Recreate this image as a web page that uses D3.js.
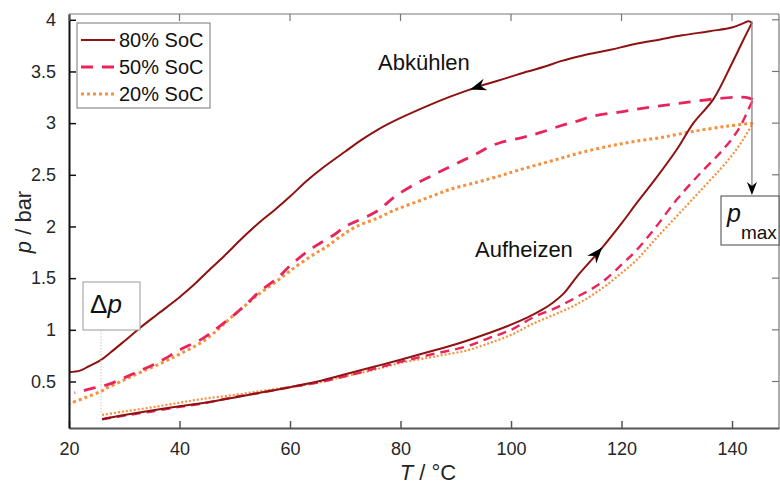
<!DOCTYPE html>
<html>
<head>
<meta charset="utf-8">
<script src="https://cdn.jsdelivr.net/npm/d3@7"></script>
<style>
  html, body { margin: 0; padding: 0; background: #fff; }
  svg { display: block; font-family: "Liberation Sans", Arial, sans-serif; }
</style>
</head>
<body>
<svg id="chart" width="780" height="484"></svg>
<script>
// Pressure hysteresis loops: heating (Aufheizen) and cooling (Abkühlen) for three states of charge.
// Each branch is a list of [T in °C, p in bar].
const heat80 = [[26,0.135],[30,0.175],[35,0.22],[40,0.26],[44,0.29],[50,0.345],[55,0.395],[60,0.445],[65,0.5],[70,0.57],[75,0.64],[80,0.71],[85,0.785],[90,0.86],[95,0.95],[100,1.05],[103,1.12],[105.5,1.19],[107.5,1.26],[109.5,1.35],[112,1.52],[116.2,1.776],[120,2.03],[122.8,2.23],[126,2.45],[130,2.745],[133,3.0],[136.6,3.23],[140,3.58],[142,3.80],[143.6,3.97]];
const cool80 = [[143.6,3.97],[143,3.985],[142,3.965],[140,3.925],[136,3.89],[131,3.85],[127,3.81],[122,3.76],[118,3.71],[113,3.655],[109,3.60],[106,3.545],[103,3.50],[100,3.45],[97,3.40],[94.5,3.36],[92,3.315],[89,3.256],[85,3.17],[80,3.05],[76,2.94],[73,2.84],[70,2.725],[66,2.57],[63,2.44],[60,2.29],[57,2.15],[54.7,2.05],[51.7,1.905],[48,1.71],[45,1.56],[42.7,1.44],[40,1.315],[36,1.15],[33,1.025],[30,0.89],[27.5,0.78],[25.8,0.71],[23.5,0.645],[22,0.605],[20,0.59]];
const heat50 = [[26,0.135],[30,0.17],[35,0.21],[40,0.255],[44,0.285],[50,0.35],[55,0.395],[60,0.445],[65,0.49],[70,0.55],[75,0.62],[80,0.69],[85,0.755],[92,0.84],[96,0.92],[100,1.0],[104,1.12],[108,1.21],[112,1.32],[116.2,1.45],[120,1.63],[122.8,1.776],[126,1.98],[130,2.26],[134,2.5],[137.8,2.71],[140,2.85],[141.5,2.97],[143.8,3.23]];
const cool50 = [[143.8,3.23],[142.5,3.25],[140.6,3.25],[137,3.235],[133,3.21],[129,3.18],[124.6,3.15],[120,3.11],[115,3.07],[112,3.02],[109,2.975],[105.4,2.91],[102,2.86],[98,2.81],[96,2.77],[94,2.71],[89,2.58],[86,2.50],[83,2.42],[79,2.29],[75.8,2.15],[72,2.05],[70,2.0],[68,1.92],[65.5,1.84],[63.2,1.76],[60,1.62],[57.7,1.50],[54.7,1.38],[52.3,1.26],[50,1.15],[46.9,1.02],[44,0.91],[40.2,0.81],[37,0.71],[35.4,0.665],[32,0.585],[30,0.535],[27,0.47],[24,0.43],[21,0.39]];
const heat20 = [[26,0.177],[30,0.21],[35,0.25],[40,0.295],[44,0.33],[50,0.37],[55,0.41],[60,0.446],[65,0.49],[70,0.55],[75,0.61],[80,0.68],[85,0.73],[88,0.76],[92,0.80],[96,0.87],[100,0.95],[104,1.06],[108,1.15],[112,1.25],[116.2,1.39],[120,1.55],[122.8,1.68],[126,1.87],[130,2.10],[134,2.33],[137.8,2.55],[140.3,2.71],[142,2.84],[143.8,3.0]];
const cool20 = [[143.8,3.0],[139,2.97],[133,2.92],[127,2.86],[122,2.82],[118,2.78],[113,2.72],[109,2.66],[105,2.60],[101,2.54],[98,2.49],[94,2.43],[89,2.36],[86,2.30],[83,2.24],[79,2.16],[75.8,2.08],[72,2.0],[69.2,1.905],[66.5,1.80],[64.3,1.73],[60,1.57],[57.1,1.45],[54.7,1.36],[52,1.24],[48.7,1.09],[46.9,1.0],[44,0.88],[40.2,0.77],[37,0.685],[33,0.59],[30,0.515],[27,0.44],[25.8,0.405],[23,0.345],[20,0.284]];

const seriesNames = ["80% SoC", "50% SoC", "20% SoC"];
const xTicks = [20, 40, 60, 80, 100, 120, 140];
const yTicks = [0.5, 1, 1.5, 2, 2.5, 3, 3.5, 4];
const xDomain = [20, 148.5];
const yDomain = [0.05, 4.056];

const svg = d3.select("#chart");
const M = { left: 69, right: 779, top: 14, bottom: 428 };

const x = d3.scaleLinear().domain(xDomain).range([M.left, M.right]);
const y = d3.scaleLinear().domain(yDomain).range([M.bottom, M.top]);

const styles = [
  { color: "#8e1212", dash: null, heatDash: null, wCool: 2.0, wHeat: 2.0 },
  { color: "#e8245a", dash: "12,9", heatDash: "9,6", wCool: 2.8, wHeat: 2.4 },
  { color: "#f78f3c", dash: "3,3", heatDash: "2,2", wCool: 3.0, wHeat: 2.2 }
];
const branches = [
  [heat80, cool80],
  [heat50, cool50],
  [heat20, cool20]
];

svg.append("defs").append("clipPath").attr("id", "plotclip")
  .append("rect").attr("x", M.left).attr("y", M.top)
  .attr("width", M.right - M.left).attr("height", M.bottom - M.top);

const line = d3.line().x(d => x(d[0])).y(d => y(d[1])).curve(d3.curveCatmullRom.alpha(0.5));

// Axis box
const axisG = svg.append("g");
axisG.append("line").attr("x1", M.left).attr("x2", M.right).attr("y1", M.top).attr("y2", M.top)
  .attr("stroke", "#777").attr("stroke-width", 1.2);
axisG.append("line").attr("x1", M.right).attr("x2", M.right).attr("y1", M.top).attr("y2", M.bottom)
  .attr("stroke", "#777").attr("stroke-width", 1.2);

// Series (draw 20% first so darker series sit on top)
const plotG = svg.append("g").attr("clip-path", "url(#plotclip)");
[2, 1, 0].forEach(i => {
  const st = styles[i];
  const [h, c] = branches[i];
  plotG.append("path").attr("d", line(h)).attr("fill", "none")
    .attr("stroke", st.color).attr("stroke-width", st.wHeat)
    .attr("stroke-dasharray", st.heatDash);
  plotG.append("path").attr("d", line(c)).attr("fill", "none")
    .attr("stroke", st.color).attr("stroke-width", st.wCool)
    .attr("stroke-dasharray", st.dash);
});

// Bottom and left axes
const xAxis = d3.axisBottom(x).tickValues(xTicks).tickSizeInner(-7).tickSizeOuter(0).tickPadding(14);
const gx = svg.append("g").attr("transform", `translate(0,${M.bottom})`).call(xAxis);
gx.select(".domain").attr("stroke", "#555").attr("stroke-width", 1.8);
gx.selectAll(".tick line").attr("stroke", "#555").attr("stroke-width", 1.5);
gx.selectAll(".tick text").attr("font-size", 18).attr("fill", "#262626")
  .attr("font-family", "Liberation Sans, Arial, sans-serif").attr("dy", "0.72em");

const yAxis = d3.axisLeft(y).tickValues(yTicks).tickFormat(d3.format("")).tickSizeInner(-7).tickSizeOuter(0).tickPadding(13);
const gy = svg.append("g").attr("transform", `translate(${M.left},0)`).call(yAxis);
gy.select(".domain").attr("stroke", "#111").attr("stroke-width", 2);
gy.selectAll(".tick line").attr("stroke", "#111").attr("stroke-width", 1.5);
gy.selectAll(".tick text").attr("font-size", 18).attr("fill", "#262626")
  .attr("font-family", "Liberation Sans, Arial, sans-serif");

// Top and right tick marks
xTicks.forEach(t => {
  svg.append("line").attr("x1", x(t)).attr("x2", x(t)).attr("y1", M.top).attr("y2", M.top + 7)
    .attr("stroke", "#777").attr("stroke-width", 1.2);
});
yTicks.forEach(t => {
  svg.append("line").attr("x1", M.right - 7).attr("x2", M.right).attr("y1", y(t)).attr("y2", y(t))
    .attr("stroke", "#777").attr("stroke-width", 1.2);
});

// Axis titles
const xl = svg.append("text").attr("x", 428).attr("y", 480).attr("text-anchor", "middle")
  .attr("font-size", 22).attr("fill", "#262626");
xl.append("tspan").attr("font-style", "italic").text("T");
xl.append("tspan").text(" / °C");

const yl = svg.append("text").attr("transform", "translate(31,222) rotate(-90)")
  .attr("text-anchor", "middle").attr("font-size", 22).attr("fill", "#262626");
yl.append("tspan").attr("font-style", "italic").text("p");
yl.append("tspan").text(" / bar");

// Linear lookup along a branch, used to place direction arrows on the curves
function interp(branch, T) {
  for (let k = 0; k < branch.length - 1; k++) {
    const a = branch[k], b = branch[k + 1];
    if ((T - a[0]) * (T - b[0]) <= 0 && a[0] !== b[0]) {
      const f = (T - a[0]) / (b[0] - a[0]);
      return a[1] + f * (b[1] - a[1]);
    }
  }
  return branch[branch.length - 1][1];
}
function arrowHead(tipX, tipY, dirX, dirY, len, half, notch) {
  const n = Math.hypot(dirX, dirY); const ux = dirX / n, uy = dirY / n;
  const px = -uy, py = ux;
  const bx = tipX - ux * len, by = tipY - uy * len;
  const nx = tipX - ux * (len - notch), ny = tipY - uy * (len - notch);
  return `M${tipX},${tipY}L${bx + px * half},${by + py * half}L${nx},${ny}L${bx - px * half},${by - py * half}Z`;
}
function curveArrow(branch, T, towardT) {
  const tx = x(T), ty = y(interp(branch, T));
  const bx = x(towardT), by = y(interp(branch, towardT));
  svg.append("path").attr("d", arrowHead(tx, ty, tx - bx, ty - by, 16, 6, 5)).attr("fill", "#000");
}
curveArrow(cool80, 92.6, 96);
curveArrow(heat80, 116.5, 114.5);

// Branch labels
svg.append("text").attr("x", 378).attr("y", 70).attr("font-size", 22).attr("fill", "#111").text("Abkühlen");
svg.append("text").attr("x", 475).attr("y", 257).attr("font-size", 22).attr("fill", "#111").text("Aufheizen");

// p_max marker
const pmaxX = x(143.6);
svg.append("line").attr("x1", pmaxX).attr("x2", pmaxX).attr("y1", y(3.985)).attr("y2", 190)
  .attr("stroke", "#8c8c8c").attr("stroke-width", 1.4);
svg.append("path").attr("d", arrowHead(pmaxX, 195, 0, 1, 13, 5, 4)).attr("fill", "#000");
svg.append("rect").attr("x", 721).attr("y", 196).attr("width", 58).attr("height", 49)
  .attr("fill", "#fff").attr("stroke", "#444").attr("stroke-width", 1);
const pm = svg.append("text").attr("x", 727).attr("y", 222).attr("font-size", 25).attr("fill", "#111");
pm.append("tspan").attr("font-style", "italic").text("p");
pm.append("tspan").attr("font-size", 19).attr("dy", 17).text("max");

// Δp marker
const dpX = x(25.8);
svg.append("line").attr("x1", dpX).attr("x2", dpX).attr("y1", 330).attr("y2", y(0.18))
  .attr("stroke", "#c8c8c8").attr("stroke-width", 1).attr("stroke-dasharray", "1.5,1.5");
svg.append("rect").attr("x", 83).attr("y", 282).attr("width", 57).attr("height", 48)
  .attr("fill", "#fff").attr("stroke", "#999").attr("stroke-width", 1);
const dp = svg.append("text").attr("x", 90).attr("y", 313).attr("font-size", 26).attr("fill", "#111");
dp.append("tspan").text("Δ");
dp.append("tspan").attr("font-style", "italic").text("p");

// Legend
const lg = svg.append("g");
lg.append("rect").attr("x", 77).attr("y", 23).attr("width", 133).attr("height", 85)
  .attr("fill", "#fff").attr("stroke", "#777").attr("stroke-width", 1);
seriesNames.forEach((name, i) => {
  const cy = 40 + i * 27;
  lg.append("line").attr("x1", 81).attr("x2", 115).attr("y1", cy).attr("y2", cy)
    .attr("stroke", styles[i].color).attr("stroke-width", styles[i].wCool)
    .attr("stroke-dasharray", styles[i].dash);
  lg.append("text").attr("x", 119).attr("y", cy).attr("dy", "0.36em")
    .attr("font-size", 20).attr("fill", "#111").text(name);
});
</script>
</body>
</html>
